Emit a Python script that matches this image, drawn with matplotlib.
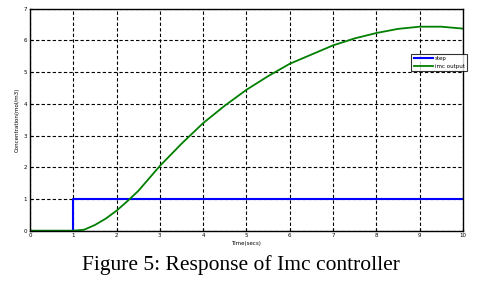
import numpy as np
import matplotlib
matplotlib.use('Agg')
import matplotlib.pyplot as plt

# step input
step_t = [0, 1, 1, 10]
step_y = [0, 0, 1, 1]

# imc output
imc_t = [0, 1, 1.25, 1.5, 1.75, 2, 2.25, 2.5, 3, 3.5, 4, 4.5, 5, 5.5,
         6, 6.5, 7, 7.5, 8, 8.5, 9, 9.5, 10]
imc_y = [0, 0, 0.03, 0.18, 0.38, 0.63, 0.93, 1.25, 2.04, 2.74, 3.39, 3.94,
         4.44, 4.87, 5.26, 5.55, 5.84, 6.06, 6.23, 6.36, 6.43, 6.43, 6.37]

xticks = np.arange(0, 11)
yticks = np.arange(0, 8)

fig = plt.figure(figsize=(4.82, 2.84), dpi=100)
ax = fig.add_axes([0.0622, 0.1877, 0.898, 0.782])

ax.plot(step_t, step_y, color='#0000ff', lw=1.5, label='step')
ax.plot(imc_t, imc_y, color='#007f00', lw=1.3, label='imc output')

ax.set_xlim(0, 10)
ax.set_ylim(0, 7)
ax.set_xticks(xticks)
ax.set_yticks(yticks)
ax.tick_params(direction='in', length=2, labelsize=4, pad=2)
ax.grid(True, color='black', linestyle=(0, (3, 2)), linewidth=0.8)
for s in ax.spines.values():
    s.set_linewidth(1)

ax.set_xlabel('Time(secs)', fontsize=4, labelpad=2)
ax.set_ylabel('Concentration(mol/m3)', fontsize=4, labelpad=3)

leg = ax.legend(loc='upper left', bbox_to_anchor=(0.875, 0.81), fontsize=4,
                frameon=True, fancybox=False, borderpad=0.4, handlelength=3.5,
                labelspacing=0.5, handletextpad=0.3)
leg.get_frame().set_edgecolor('black')
leg.get_frame().set_linewidth(0.8)

fig.text(0.5, 0.068, 'Figure 5: Response of Imc controller', ha='center',
         va='center', fontsize=15.5, family='Liberation Serif')

plt.savefig('out.png', dpi=100)
plt.close()
